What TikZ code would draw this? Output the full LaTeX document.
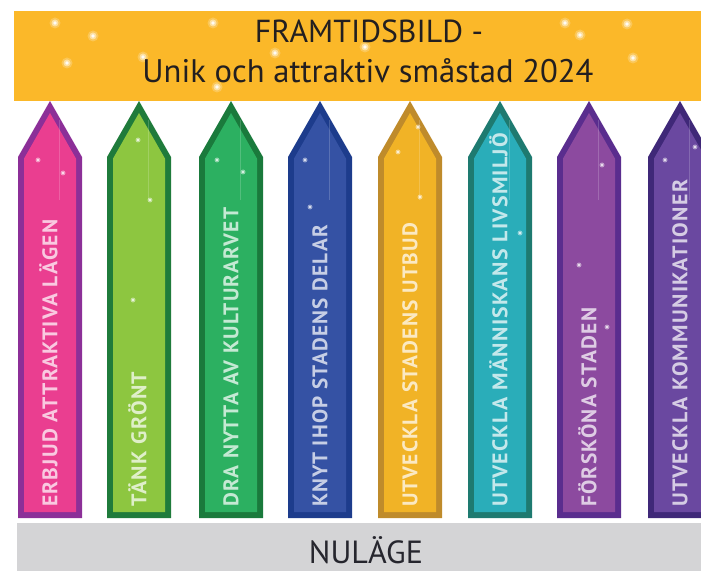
\documentclass[tikz,border=0pt]{standalone}
\usepackage{fontspec}
\newfontfamily\hdfont{PT Sans}
\newfontfamily\labfont{PT Sans}[LetterSpace=6]
\definecolor{banner}{HTML}{FBB829}
\definecolor{greybar}{HTML}{D4D4D6}
\definecolor{pinkF}{HTML}{EA3E90}
\definecolor{pinkB}{HTML}{8C2F98}
\definecolor{lgreenF}{HTML}{8DC640}
\definecolor{lgreenB}{HTML}{1F7B3B}
\definecolor{greenF}{HTML}{2CB061}
\definecolor{greenB}{HTML}{1A7A3C}
\definecolor{blueF}{HTML}{3552A4}
\definecolor{blueB}{HTML}{1D3C8C}
\definecolor{yellowF}{HTML}{F1B326}
\definecolor{yellowB}{HTML}{BF8B2B}
\definecolor{tealF}{HTML}{2AADB9}
\definecolor{tealB}{HTML}{1E7A70}
\definecolor{purpleF}{HTML}{8C4A9F}
\definecolor{purpleB}{HTML}{5A2D8E}
\definecolor{dpurpleF}{HTML}{6A48A0}
\definecolor{dpurpleB}{HTML}{3F2878}
\definecolor{hdtext}{HTML}{231F20}
\definecolor{nutext}{HTML}{26262E}
\newlength\labnatw
\newlength\labcaph
\newcommand\fitlabel[2]{%
  \settowidth\labnatw{#1}%
  \settoheight\labcaph{H}%
  \pgfmathsetmacro\xs{#2*1.00375/\labnatw}%
  \pgfmathsetmacro\ys{14.8*1.00375/\labcaph}%
  \scalebox{\xs}[\ys]{#1}}
\tikzset{
  hd/.style={text=hdtext, font=\hdfont, inner sep=0pt},
  nu/.style={text=nutext, font=\hdfont, inner sep=0pt},
  lab/.style={text=white, text opacity=0.72, font=\labfont\bfseries, inner sep=0pt},
  sparkglow/.style={fill=white, opacity=0.22},
  sparkle/.style={fill=white, opacity=0.45},
  sparkcore/.style={fill=white, opacity=0.9},
  glint/.style={draw=white, opacity=0.18, line width=0.6bp}
}
\begin{document}
\begin{tikzpicture}[x=1bp,y=-1bp]
\useasboundingbox (0,0) rectangle (701,571);
\clip (0,0) rectangle (701,571);
% banner
\fill[banner] (14,11) rectangle (701,101);
% bottom bar
\fill[greybar] (17,523) rectangle (701,571);
% banner sparkles
\foreach \sx/\sy in {55/23,93/36,67/63,143/57,213/23,217/87,275/53,365/47,565/23,580/35,627/24,633/58}{
  \fill[sparkglow] (\sx,\sy) circle (5.5);
  \fill[sparkle] (\sx,\sy) circle (3.5);
  \fill[sparkcore] (\sx,\sy) circle (1.8);
}
% arrows
\foreach \xl/\fc/\bc/\txt/\len [count=\i] in {
  18/pinkF/pinkB/{ERBJUD ATTRAKTIVA LÄGEN}/287,
  107/lgreenF/lgreenB/{TÄNK GRÖNT}/135,
  199/greenF/greenB/{DRA NYTTA AV KULTURARVET}/299,
  288/blueF/blueB/{KNYT IHOP STADENS DELAR}/282,
  378/yellowF/yellowB/{UTVECKLA STADENS UTBUD}/284,
  468/tealF/tealB/{UTVECKLA MÄNNISKANS LIVSMILJÖ}/374,
  557/purpleF/purpleB/{FÖRSKÖNA STADEN}/199,
  648/dpurpleF/dpurpleB/{UTVECKLA KOMMUNIKATIONER}/327}{
  \fill[\bc] (\xl,518) -- (\xl,157) -- (\xl+32,101) -- (\xl+64,157) -- (\xl+64,518) -- cycle;
  \fill[\fc] (\xl+6,512) -- (\xl+6,158.6) -- (\xl+32,113) -- (\xl+58,158.6) -- (\xl+58,512) -- cycle;
  \draw[glint] (\xl+41,120) -- (\xl+41,200);
  \node[lab, rotate=90, anchor=base west] (L\i) at (\xl+39.4,507) {\fitlabel{\txt}{\len}};
}
% arrow sparkles
\foreach \sx/\sy in {38/160,63/173,138/140,150/200,133/300,217/160,243/172,305/160,310/207,418/127,398/152,420/197,520/233,579/265,607/327,602/165,695/147,665/160}{
  \fill[sparkle] (\sx,\sy) circle (2.5);
  \fill[sparkcore] (\sx,\sy) circle (1.1);
}
% texts
\node[hd, anchor=base] (t1) at (369,43) {\resizebox{228bp}{!}{FRAMTIDSBILD -}};
\node[hd, anchor=base] (t2) at (368,83) {\resizebox{451bp}{!}{Unik och attraktiv småstad 2024}};
\node[nu, anchor=base] (nul) at (366,563) {\resizebox{114bp}{!}{NULÄGE}};
\end{tikzpicture}
\end{document}
